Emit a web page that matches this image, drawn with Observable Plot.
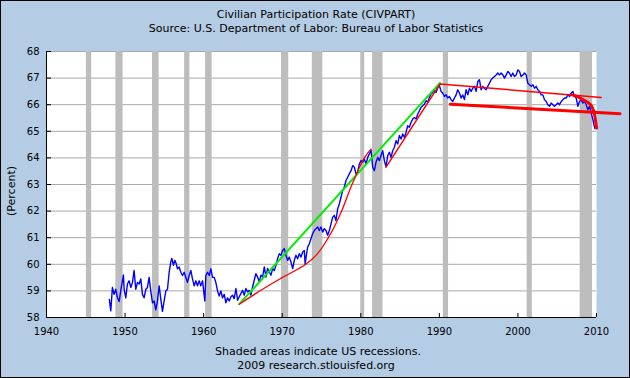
<!DOCTYPE html>
<html><head><meta charset="utf-8">
<script src="https://cdn.jsdelivr.net/npm/d3@7"></script>
<script src="https://cdn.jsdelivr.net/npm/@observablehq/plot@0.6"></script>
<style>
html,body{margin:0;padding:0;background:#b4cce4;}
#chart svg{display:block;outline:1px solid #000;outline-offset:-1px;}
</style></head>
<body><div id="chart"></div>
<script>
// ---- texts ----
const titleText = "Civilian Participation Rate (CIVPART)";
const subtitleText = "Source: U.S. Department of Labor: Bureau of Labor Statistics";
const yAxisLabel = "(Percent)";
const noteText = "Shaded areas indicate US recessions.";
const creditText = "2009 research.stlouisfed.org";

// ---- ticks ----
const xTicks = [1940, 1950, 1960, 1970, 1980, 1990, 2000, 2010];
const yTicks = [58, 59, 60, 61, 62, 63, 64, 65, 66, 67, 68];

// ---- recessions (decimal years) ----
const recessionStart = [1945.08, 1948.83, 1953.5, 1957.58, 1960.25, 1969.92, 1973.83, 1980.0, 1981.5, 1990.5, 2001.17, 2007.92];
const recessionEnd   = [1945.75, 1949.75, 1954.33, 1958.25, 1961.08, 1970.83, 1975.17, 1980.5, 1982.83, 1991.17, 2001.83, 2009.5];

// ---- CIVPART ----
const civpartYear = [
1948.0,1948.18,1948.39,1948.6,1948.82,1949.03,1949.24,1949.45,1949.66,1949.79,1949.88,1950.09,1950.3,1950.51,1950.73,1950.94,
1951.15,1951.36,1951.58,1951.79,1952.0,1952.21,1952.42,1952.64,1952.85,1953.06,1953.27,1953.49,1953.7,1953.91,1954.12,1954.34,
1954.55,1954.76,1954.97,1955.19,1955.4,1955.61,1955.82,1955.95,1956.16,1956.33,1956.5,1956.67,1956.88,1957.1,1957.31,1957.52,
1957.73,1957.94,1958.16,1958.37,1958.58,1958.8,1959.01,1959.22,1959.43,1959.64,1959.86,1959.98,1960.15,1960.28,1960.49,1960.71,
1960.92,1961.13,1961.34,1961.55,1961.77,1961.98,1962.19,1962.4,1962.62,1962.83,1963.04,1963.26,
1963.47,1963.68,1963.89,1964.11,1964.32,1964.53,1964.74,1964.96,1965.17,1965.38,1965.59,1965.81,1966.02,1966.23,1966.44,1966.65,
1966.87,1967.08,1967.29,1967.5,1967.72,1967.93,1968.14,1968.35,1968.57,1968.78,1968.99,1969.2,1969.41,1969.63,1969.84,1970.05,
1970.26,1970.48,1970.69,1970.9,1971.11,1971.33,1971.54,1971.75,1971.96,1972.17,1972.39,1972.6,1972.81,1972.92,1973.05,1973.24,
1973.45,1973.66,1973.87,1974.09,1974.3,1974.51,1974.72,1974.93,1975.15,1975.36,1975.57,1975.78,1976.0,1976.21,1976.42,1976.63,
1976.84,1977.06,1977.27,1977.48,1977.69,1977.91,1978.12,1978.33,1978.54,1978.76,1978.97,1979.18,1979.39,1979.6,1979.82,
1980.03,1980.24,1980.45,1980.67,1980.88,1981.09,1981.3,1981.52,1981.73,1981.94,1982.15,1982.37,1982.58,1982.79,1983.0,1983.21,
1983.43,1983.64,1983.85,1984.06,1984.28,1984.49,1984.7,1984.91,1985.13,1985.34,1985.55,1985.76,1985.97,1986.19,1986.4,1986.61,
1986.82,1987.04,1987.25,1987.46,1987.67,1987.89,1988.1,1988.31,1988.52,1988.73,1988.95,1989.16,1989.37,1989.58,1989.8,1990.01,
1990.22,1990.43,1990.65,1990.86,1991.07,1991.28,1991.49,1991.71,1991.92,1992.13,1992.34,1992.56,1992.77,1992.98,1993.19,1993.4,
1993.62,1993.83,1994.04,1994.25,1994.47,1994.68,1994.89,1995.1,1995.32,1995.53,1995.74,1995.95,1996.16,1996.38,1996.59,1996.8,
1997.01,1997.23,1997.44,1997.65,1997.86,1998.08,1998.29,1998.5,1998.71,1998.92,1999.14,1999.35,1999.56,1999.77,1999.99,2000.2,
2000.41,2000.62,2000.84,2001.05,2001.26,2001.47,2001.69,2001.9,2002.11,2002.32,2002.53,2002.75,2002.96,2003.17,2003.38,2003.6,
2003.81,2004.02,2004.23,2004.44,2004.66,2004.87,2005.08,2005.29,2005.51,2005.72,2005.93,2006.14,2006.36,2006.57,2006.78,2006.99,
2007.2,2007.42,2007.63,2007.84,2008.05,2008.27,2008.48,2008.69,2008.9,2009.11,2009.33,2009.54,2009.67,2009.8];
const civpartValue = [
58.68,58.25,59.13,58.87,59.06,58.74,58.6,59.0,59.38,59.6,59.06,58.74,59.26,59.38,59.13,59.32,
59.77,59.06,59.32,59.26,59.45,58.87,58.74,59.06,59.13,59.51,59.0,58.55,58.62,58.29,58.62,59.19,
58.68,58.23,58.62,59.0,59.06,59.7,60.09,60.22,59.96,60.15,60.03,59.83,59.9,59.7,59.58,59.7,
59.51,59.32,59.58,59.77,59.45,59.19,59.38,59.19,59.38,59.19,59.38,59.06,58.62,59.58,59.7,59.58,
59.83,59.51,59.51,59.32,59.0,58.81,59.0,58.74,58.87,58.55,58.74,58.62,
58.78,58.84,58.71,59.09,58.65,58.78,58.9,59.02,58.84,59.09,58.96,59.02,58.84,59.15,59.4,59.65,
59.52,59.34,59.59,59.52,59.9,59.52,59.84,59.71,59.59,59.84,59.77,59.96,60.21,60.4,60.34,60.52,
60.59,60.34,60.15,60.27,60.09,59.84,60.15,60.34,60.21,60.4,60.27,60.46,60.52,60.0,60.3,60.65,
60.77,60.96,61.15,61.27,61.34,61.4,61.27,61.4,61.21,61.34,61.27,61.09,61.27,61.52,61.77,61.84,
61.65,62.09,62.27,62.52,62.77,62.9,63.15,63.27,63.4,63.52,63.71,63.65,63.4,63.46,63.77,
63.9,63.84,63.96,63.77,64.02,64.15,64.3,63.65,63.52,63.84,64.02,63.9,64.09,64.27,63.9,63.67,
64.09,64.21,64.02,64.27,64.4,64.65,64.52,64.84,64.71,64.9,64.77,64.96,65.21,65.15,65.34,65.46,
65.52,65.46,65.65,65.77,65.9,65.96,66.02,66.15,66.09,66.27,66.4,66.46,66.52,66.46,66.65,66.71,
66.5,66.44,66.31,66.37,66.25,66.31,66.19,66.12,66.25,66.37,66.56,66.44,66.25,66.37,66.19,66.56,
66.37,66.62,66.5,66.62,66.69,66.5,66.87,66.94,66.56,66.69,66.62,66.56,66.69,66.81,66.94,67.0,
67.06,67.12,67.19,67.12,67.19,67.12,67.0,67.12,67.25,67.19,67.06,67.19,67.06,67.12,67.31,67.25,
67.06,67.12,67.19,67.12,66.81,66.75,66.69,66.75,66.62,66.69,66.56,66.5,66.37,66.37,66.19,66.12,
66.0,65.94,66.06,66.0,65.94,66.0,66.06,66.0,66.12,66.19,66.25,66.25,66.37,66.31,66.44,66.5,
66.31,66.25,65.94,66.12,66.19,66.06,66.12,66.0,65.81,65.94,65.69,65.44,65.25,65.1];

// ---- annotation lines ----
const greenYear = [1964.53, 1990.09];
const greenValue = [58.5, 66.82];
const redCurveYear = [1964.53, 1967.7, 1970.0, 1973.0, 1974.5, 1975.87, 1976.7, 1977.56, 1978.88, 1980.45, 1981.3];
const redCurveValue = [58.5, 59.1, 59.5, 60.0, 60.4, 61.0, 61.45, 62.0, 63.0, 64.0, 64.33];
const redUpperYear = [1983.21, 1990.09, 2010.6];
const redUpperValue = [63.65, 66.78, 66.27];
const redLowerYear = [1991.4, 2013.0];
const redLowerValue = [66.02, 65.66];
const redDropYear = [2006.9, 2007.6, 2008.2, 2008.8, 2009.3, 2009.6, 2009.8, 2009.95, 2010.02];
const redDropValue = [66.37, 66.3, 66.2, 66.1, 65.98, 65.8, 65.55, 65.25, 65.12];

// ---- build tables ----
const rows = (xs, ys) => xs.map((x, i) => ({year: x, value: ys[i]}));
const recessions = recessionStart.map((s, i) => ({start: s, end: recessionEnd[i]}));
const civpart = rows(civpartYear, civpartValue);

const W = 630, H = 378, mL = 46, mR = 34, mT = 51, mB = 61;
const plotW = W - mL - mR, plotH = H - mT - mB;
const font = "'DejaVu Sans', Verdana, sans-serif";

const chart = Plot.plot({
  width: W, height: H,
  marginLeft: mL, marginRight: mR, marginTop: mT, marginBottom: mB,
  style: {background: "#b4cce4", fontFamily: font, fontSize: "10px", color: "#000", overflow: "visible"},
  x: {domain: [1940, 2010]},
  y: {domain: [58, 68]},
  marks: [
    Plot.frame({fill: "#fff", stroke: "none"}),
    Plot.ruleY(yTicks, {stroke: "#a8a8a8", strokeWidth: 1}),
    Plot.rect(recessions, {x1: "start", x2: "end", fill: "#bdbdbd"}),
    Plot.ruleY(yTicks, {stroke: "#000", insetRight: plotW - 5}),
    Plot.ruleX(xTicks, {stroke: "#000", insetTop: plotH - 4}),
    Plot.ruleX([1940], {stroke: "#000"}),
    Plot.ruleY([58], {stroke: "#000"}),
    Plot.line(civpart, {x: "year", y: "value", stroke: "#0000ff", strokeWidth: 1.4, curve: "linear"}),
    Plot.line(rows(greenYear, greenValue), {x: "year", y: "value", stroke: "#00ee00", strokeWidth: 2}),
    Plot.line(rows(redCurveYear, redCurveValue), {x: "year", y: "value", stroke: "#ff0000", strokeWidth: 1.3, curve: "catmull-rom"}),
    Plot.line(rows(redUpperYear, redUpperValue), {x: "year", y: "value", stroke: "#ff0000", strokeWidth: 1.5}),
    Plot.line(rows(redLowerYear, redLowerValue), {x: "year", y: "value", stroke: "#ff0000", strokeWidth: 3}),
    Plot.line(rows(redDropYear, redDropValue), {x: "year", y: "value", stroke: "#ff0000", strokeWidth: 3, curve: "catmull-rom"}),
    Plot.axisX(xTicks, {tickSize: 0, tickPadding: 10, tickFormat: d => String(d), label: null, fontSize: 10}),
    Plot.axisY(yTicks, {tickSize: 0, tickPadding: 7, label: null, fontSize: 10})
  ]
});

const svg = d3.select(chart);
const addText = (t, x, y, size, rot) => {
  const el = svg.append("text").attr("font-family", font).attr("font-size", size)
    .attr("fill", "#000").attr("text-anchor", "middle").text(t);
  if (rot) el.attr("transform", `translate(${x},${y}) rotate(-90)`);
  else el.attr("x", x).attr("y", y);
};
addText(titleText, 316, 18, 11);
addText(subtitleText, 316, 32, 11);
addText(yAxisLabel, 15, 191, 11, true);
addText(noteText, 318, 355, 11);
addText(creditText, 316, 369, 11);

document.getElementById("chart").append(chart);
</script>
</body></html>
